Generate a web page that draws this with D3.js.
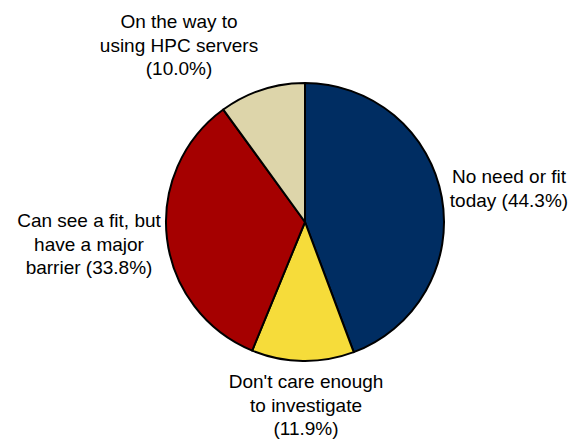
<!DOCTYPE html>
<html>
<head>
<meta charset="utf-8">
<script src="https://cdn.jsdelivr.net/npm/d3@7"></script>
<style>
  body { margin: 0; background: #fff; }
  text { font-family: "Liberation Sans", Arial, sans-serif; font-size: 19px; fill: #000; }
</style>
</head>
<body>
<script>
// data
var categories = ["No need or fit today", "Don't care enough to investigate", "Can see a fit, but have a major barrier", "On the way to using HPC servers"];
var shares = [44.3, 11.9, 33.8, 10.0];
var labelLines = [
  ["No need or fit", "today (44.3%)"],
  ["Don't care enough", "to investigate", "(11.9%)"],
  ["Can see a fit, but", "have a major", "barrier (33.8%)"],
  ["On the way to", "using HPC servers", "(10.0%)"]
];
var colors = ["#002D62", "#F6DC3A", "#A50000", "#DDD5AA"];

var W = 571, H = 442;
var cx = 305, cy = 222, r = 139;

var svg = d3.select("body").append("svg")
  .attr("width", W)
  .attr("height", H);

var pie = d3.pie().sort(null).value(function(d) { return d; });
var arcs = pie(shares);
var arc = d3.arc().innerRadius(0).outerRadius(r);

var g = svg.append("g").attr("transform", "translate(" + cx + "," + cy + ")");

// slices
g.selectAll("path.slice")
  .data(arcs)
  .enter().append("path")
  .attr("class", "slice")
  .attr("d", arc)
  .attr("fill", function(d, i) { return colors[i]; })
  .attr("stroke", "#000")
  .attr("stroke-width", 2)
  .attr("stroke-linejoin", "round");

// label positions (center x, first baseline y) relative to pie center
var labelPos = [[204, -39], [1, 166], [-216, 5], [-126, -194]];
var lineH = 23.5;

g.selectAll("text.lbl")
  .data(arcs)
  .enter().append("text")
  .attr("class", "lbl")
  .attr("text-anchor", "middle")
  .attr("x", function(d, i) { return labelPos[i][0]; })
  .attr("y", function(d, i) { return labelPos[i][1]; })
  .each(function(d, i) {
    var t = d3.select(this);
    labelLines[i].forEach(function(s, k) {
      t.append("tspan")
        .attr("x", labelPos[i][0])
        .attr("y", labelPos[i][1] + k * lineH)
        .text(s);
    });
  });
</script>
</body>
</html>
